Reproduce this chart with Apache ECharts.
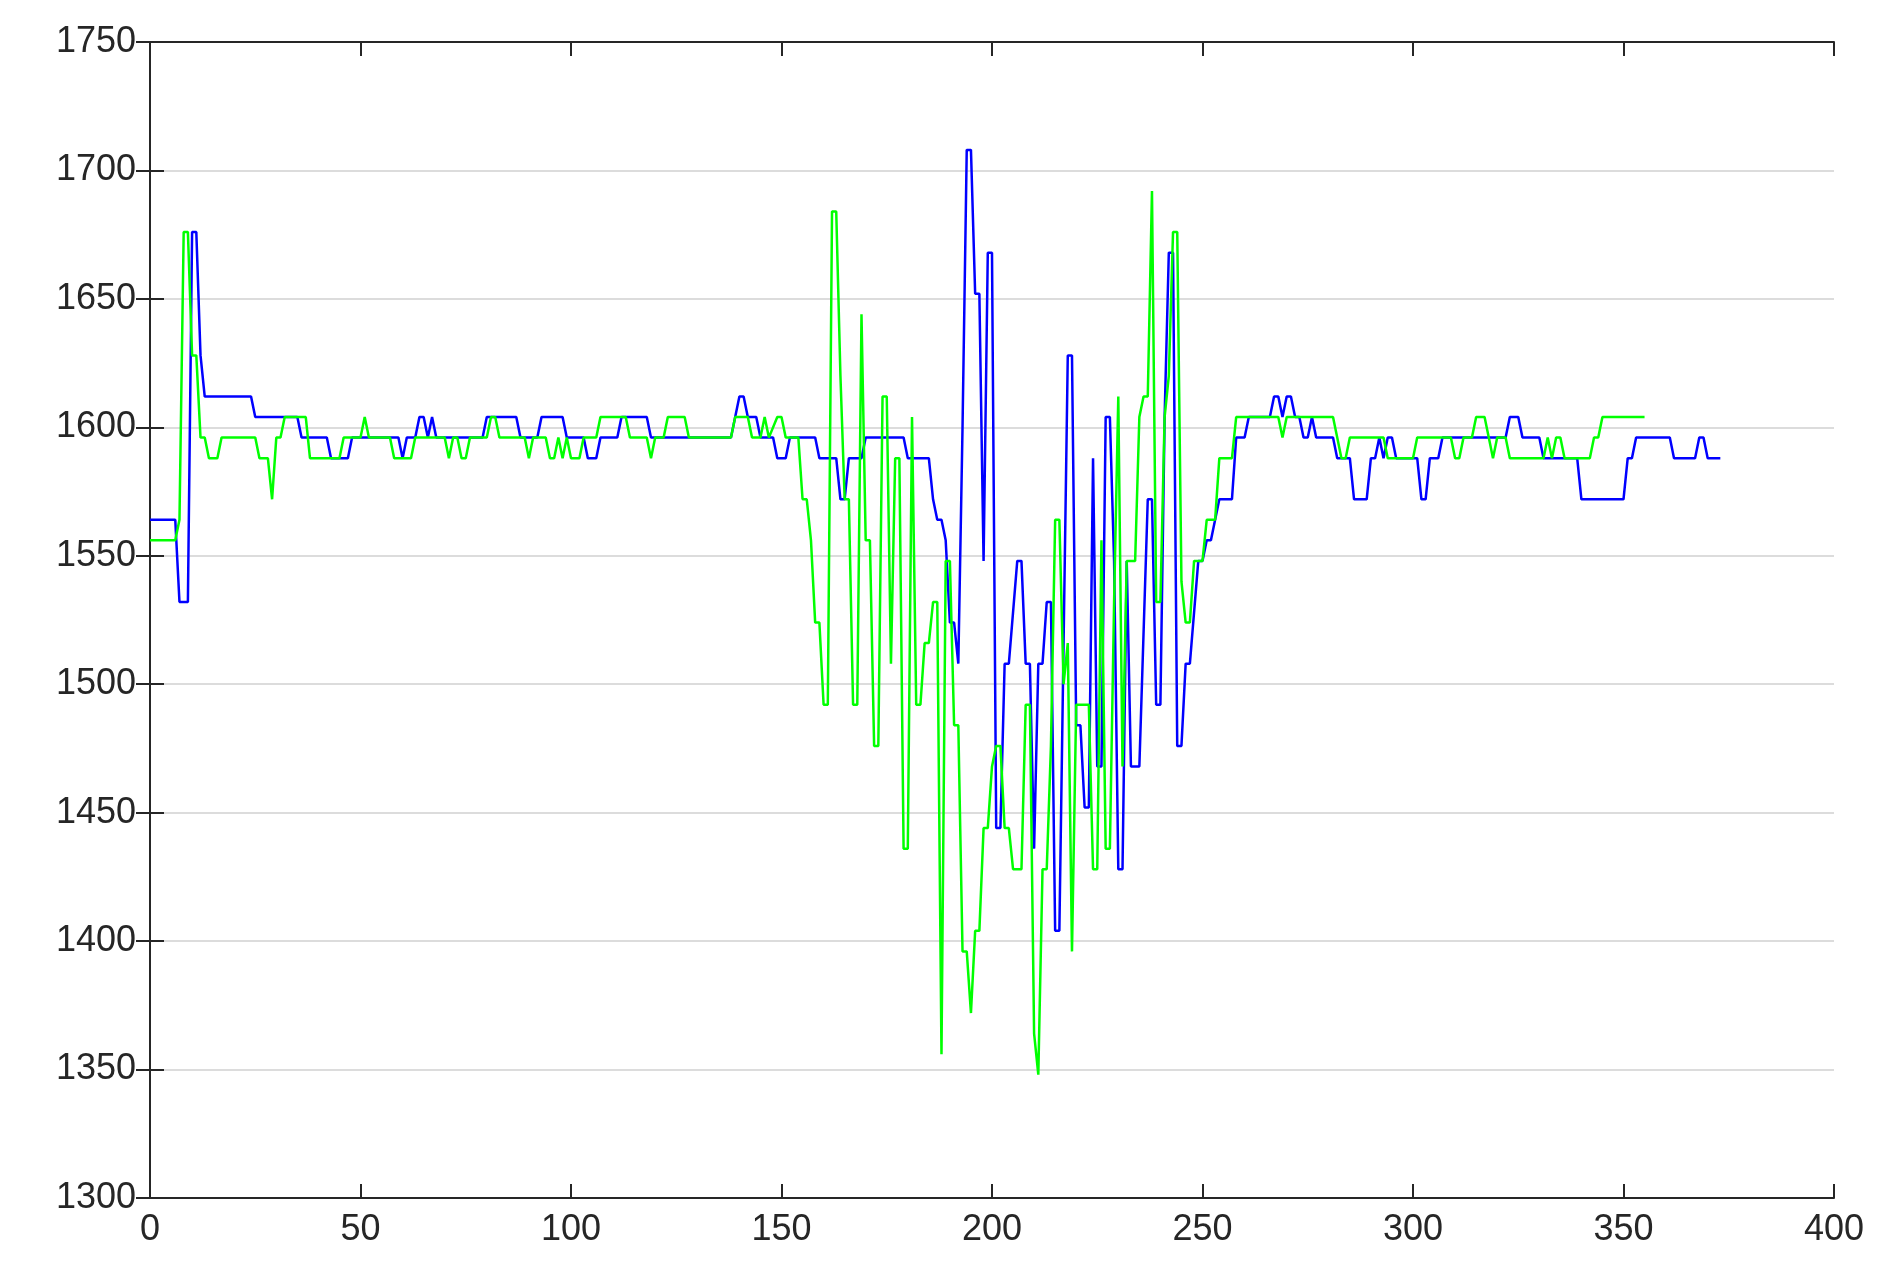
<!DOCTYPE html><html><head><meta charset="utf-8"><script src="https://cdn.jsdelivr.net/npm/echarts@6/dist/echarts.min.js"></script>
<style>html,body{margin:0;background:#fff}#c{width:1877px;height:1282px}</style></head><body><div id="c"></div><script>
const blueX=[0,6,7,9,10,11,12,13,24,25,35,36,42,43,47,48,59,60,61,63,64,65,66,67,68,79,80,87,88,92,93,98,99,103,104,106,107,111,112,118,119,138,139,140,141,142,144,145,148,149,151,152,158,159,163,164,165,166,169,170,179,180,185,186,187,188,189,190,191,192,193,194,195,196,197,198,199,200,201,202,203,204,206,207,208,209,210,211,212,213,214,215,216,218,219,220,221,222,223,224,225,226,227,228,229,230,231,232,233,235,237,238,239,240,241,242,243,244,245,246,247,249,250,251,252,254,257,258,260,261,266,267,268,269,270,271,272,273,274,275,276,277,281,282,285,286,289,290,291,292,293,294,295,296,301,302,303,304,306,307,322,323,325,326,330,331,339,340,350,351,352,353,361,362,367,368,369,370,373];
const blueY=[1564,1564,1532,1532,1676,1676,1628,1612,1612,1604,1604,1596,1596,1588,1588,1596,1596,1588,1596,1596,1604,1604,1596,1604,1596,1596,1604,1604,1596,1596,1604,1604,1596,1596,1588,1588,1596,1596,1604,1604,1596,1596,1604,1612,1612,1604,1604,1596,1596,1588,1588,1596,1596,1588,1588,1572,1572,1588,1588,1596,1596,1588,1588,1572,1564,1564,1556,1524,1524,1508,1600,1708,1708,1652,1652,1548,1668,1668,1444,1444,1508,1508,1548,1548,1508,1508,1436,1508,1508,1532,1532,1404,1404,1628,1628,1484,1484,1452,1452,1588,1468,1468,1604,1604,1548,1428,1428,1548,1468,1468,1572,1572,1492,1492,1604,1668,1668,1476,1476,1508,1508,1548,1548,1556,1556,1572,1572,1596,1596,1604,1604,1612,1612,1604,1612,1612,1604,1604,1596,1596,1604,1596,1596,1588,1588,1572,1572,1588,1588,1596,1588,1596,1596,1588,1588,1572,1572,1588,1588,1596,1596,1604,1604,1596,1596,1588,1588,1572,1572,1588,1588,1596,1596,1588,1588,1596,1596,1588,1588];
const greenX=[0,6,7,8,9,10,11,12,13,14,16,17,25,26,28,29,30,31,32,37,38,45,46,50,51,52,57,58,62,63,70,71,72,73,74,75,76,80,81,82,83,89,90,91,94,95,96,97,98,99,100,102,103,106,107,113,114,118,119,120,122,123,127,128,138,139,142,143,145,146,147,149,150,151,154,155,156,157,158,159,160,161,162,163,164,165,166,167,168,169,170,171,172,173,174,175,176,177,178,179,180,181,182,183,184,185,186,187,188,189,190,191,192,193,194,195,196,197,198,199,200,201,202,203,204,205,207,208,209,210,211,212,213,214,215,216,217,218,219,220,223,224,225,226,227,228,229,230,231,232,234,235,236,237,238,239,240,241,242,243,244,245,246,247,248,250,251,253,254,257,258,268,269,270,281,282,283,284,285,293,294,300,301,309,310,311,312,314,315,317,318,319,320,322,323,331,332,333,334,335,336,342,343,344,345,355];
const greenY=[1556,1556,1564,1676,1676,1628,1628,1596,1596,1588,1588,1596,1596,1588,1588,1572,1596,1596,1604,1604,1588,1588,1596,1596,1604,1596,1596,1588,1588,1596,1596,1588,1596,1596,1588,1588,1596,1596,1604,1604,1596,1596,1588,1596,1596,1588,1588,1596,1588,1596,1588,1588,1596,1596,1604,1604,1596,1596,1588,1596,1596,1604,1604,1596,1596,1604,1604,1596,1596,1604,1596,1604,1604,1596,1596,1572,1572,1556,1524,1524,1492,1492,1684,1684,1620,1572,1572,1492,1492,1644,1556,1556,1476,1476,1612,1612,1508,1588,1588,1436,1436,1604,1492,1492,1516,1516,1532,1532,1356,1548,1548,1484,1484,1396,1396,1372,1404,1404,1444,1444,1468,1476,1476,1444,1444,1428,1428,1492,1492,1364,1348,1428,1428,1476,1564,1564,1500,1516,1396,1492,1492,1428,1428,1556,1436,1436,1532,1612,1468,1548,1548,1604,1612,1612,1692,1532,1532,1604,1620,1676,1676,1540,1524,1524,1548,1548,1564,1564,1588,1588,1604,1604,1596,1604,1604,1596,1588,1588,1596,1596,1588,1588,1596,1596,1588,1588,1596,1596,1604,1604,1596,1588,1596,1596,1588,1588,1596,1588,1596,1596,1588,1588,1596,1596,1604,1604];
const xTicks=[0,50,100,150,200,250,300,350,400];
const yTicks=[1300,1350,1400,1450,1500,1550,1600,1650,1700,1750];
const zip=(a,b)=>a.map((v,i)=>[v,b[i]]);
const lab={color:'#262626',fontSize:36,fontFamily:'Liberation Sans',formatter:v=>String(v)};
const line={show:true,lineStyle:{color:'#262626',width:2}};
const tick={show:true,inside:true,length:14,lineStyle:{color:'#262626',width:2}};
const c=echarts.init(document.getElementById('c'));
c.setOption({animation:false,
grid:{left:150,right:43,top:42,bottom:84},
xAxis:[{type:'value',min:0,max:400,interval:50,axisLine:line,axisTick:tick,axisLabel:Object.assign({margin:14},lab),splitLine:{show:false}},
{type:'value',position:'top',min:0,max:400,interval:50,axisLine:line,axisTick:tick,axisLabel:{show:false},splitLine:{show:false}}],
yAxis:[{type:'value',min:1300,max:1750,interval:50,axisLine:line,axisTick:tick,axisLabel:Object.assign({margin:14},lab),splitLine:{show:true,lineStyle:{color:'#dcdcdc',width:2}}},
{type:'value',position:'right',min:1300,max:1750,interval:50,axisLine:line,axisTick:tick,axisLabel:{show:false},splitLine:{show:false}}],
series:[{type:'line',data:zip(blueX,blueY),showSymbol:false,lineStyle:{color:'#0000ff',width:2.5}},
{type:'line',data:zip(greenX,greenY),showSymbol:false,lineStyle:{color:'#00ff00',width:2.5}}]});
</script></body></html>
